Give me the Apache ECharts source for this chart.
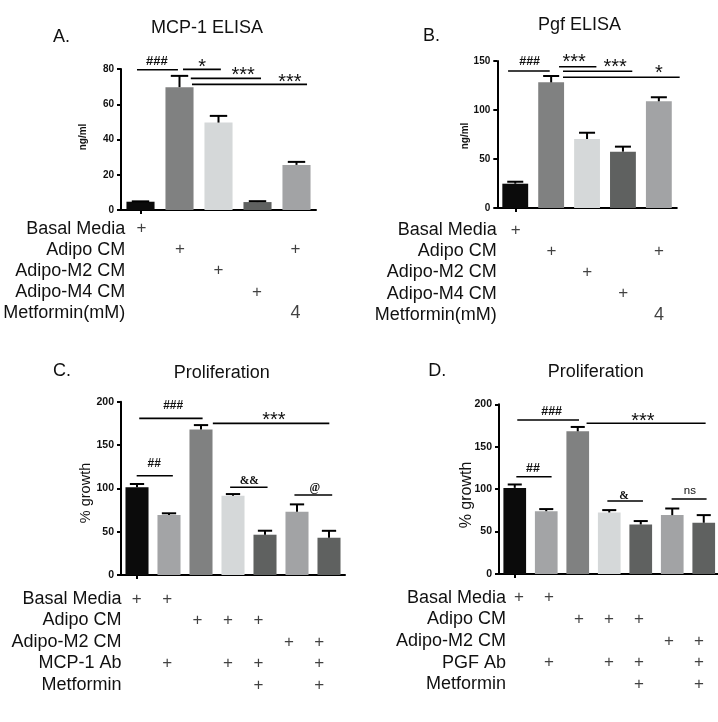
<!DOCTYPE html>
<html><head><meta charset="utf-8">
<script src="https://cdn.jsdelivr.net/npm/echarts@6/dist/echarts.min.js"></script>
<style>html,body{margin:0;padding:0;background:#fff}#c{width:718px;height:722px}</style>
</head><body><div id="c"></div>
<script>
// ---------------- DATA ----------------
const catsA = ['Basal Media', 'Adipo CM', 'Adipo-M2 CM', 'Adipo-M4 CM', 'Adipo CM + Metformin 4mM'];
const valsA = [4.7, 69.7, 49.6, 4.5, 25.6];
const errA  = [0.2, 6.4, 3.8, 0.5, 1.7];
const ticksA = [0, 20, 40, 60, 80];

const catsB = ['Basal Media', 'Adipo CM', 'Adipo-M2 CM', 'Adipo-M4 CM', 'Adipo CM + Metformin 4mM'];
const valsB = [24.8, 128.2, 70.4, 57.5, 108.9];
const errB  = [2.0, 6.5, 6.4, 5.1, 4.1];
const ticksB = [0, 50, 100, 150];

const catsC = ['Basal', 'Basal + MCP-1 Ab', 'Adipo CM', 'Adipo CM + MCP-1 Ab', 'Adipo CM + MCP-1 Ab + Metformin', 'Adipo-M2 CM', 'Adipo-M2 CM + MCP-1 Ab + Metformin'];
const valsC = [101.2, 69.2, 168.0, 91.5, 46.5, 73.0, 43.0];
const errC  = [3.8, 2.0, 5.0, 1.9, 4.6, 8.5, 8.0];
const ticksC = [0, 50, 100, 150, 200];

const catsD = ['Basal', 'Basal + PGF Ab', 'Adipo CM', 'Adipo CM + PGF Ab', 'Adipo CM + PGF Ab + Metformin', 'Adipo-M2 CM', 'Adipo-M2 CM + PGF Ab + Metformin'];
const valsD = [101.5, 74.0, 168.2, 72.5, 58.4, 69.4, 60.4];
const errD  = [4.0, 2.5, 5.1, 2.8, 4.0, 7.8, 9.0];
const ticksD = [0, 50, 100, 150, 200];

// significance: [fromIndex, toIndex, lineValue, labelIndex, labelValue, text]
const sigA = [[-0.09, 0.96, 79.6, 0.42, 84.1, '###'], [1.09, 2.06, 79.8, 1.58, 81.0, '*'], [1.29, 3.09, 74.7, 2.63, 76.5, '***'], [1.32, 4.27, 71.3, 3.83, 72.5, '***']];
const sigB = [[-0.2, 0.96, 139.8, 0.40, 149.3, '###'], [1.22, 2.26, 144.2, 1.64, 148.0, '***'], [1.33, 3.26, 139.5, 2.78, 143.0, '***'], [1.33, 4.58, 133.4, 4.0, 137.0, '*']];
const sigC = [[-0.01, 1.12, 114.5, 0.54, 128, '##'], [0.07, 2.05, 180.7, 1.13, 195, '###'], [2.37, 6.01, 175, 4.28, 178.3, '***'], [2.91, 4.08, 101.2, 3.51, 108.8, '&&'], [4.92, 6.1, 92.3, 5.56, 100, '@']];
const sigD = [[0.05, 1.17, 114.7, 0.58, 124.6, '##'], [0.08, 2.04, 181.5, 1.17, 191.3, '###'], [2.28, 6.06, 177.6, 4.07, 179.9, '***'], [2.94, 4.07, 86, 3.47, 91.9, '&'], [4.98, 6.09, 88.4, 5.56, 98.2, 'ns']];

// condition tables: rows and marks [column, row, text]
const rowsAB = ['Basal Media', 'Adipo CM', 'Adipo-M2 CM', 'Adipo-M4 CM', 'Metformin(mM)'];
const marksAB = [[0,0,'+'], [1,1,'+'], [4,1,'+'], [2,2,'+'], [3,3,'+'], [4,4,'4']];
const rowsC = ['Basal Media', 'Adipo CM', 'Adipo-M2 CM', 'MCP-1 Ab', 'Metformin'];
const rowsD = ['Basal Media', 'Adipo CM', 'Adipo-M2 CM', 'PGF Ab', 'Metformin'];
const marksCD = [[0,0,'+'], [1,0,'+'], [2,1,'+'], [3,1,'+'], [4,1,'+'], [5,2,'+'], [6,2,'+'], [1,3,'+'], [3,3,'+'], [4,3,'+'], [6,3,'+'], [4,4,'+'], [6,4,'+']];

const titles = ['MCP-1 ELISA', 'Pgf ELISA', 'Proliferation', 'Proliferation'];
const letters = ['A.', 'B.', 'C.', 'D.'];
const yNames = ['ng/ml', 'ng/ml', '% growth', '% growth'];

// ---------------- STYLE / LAYOUT ----------------
const SANS = "'Liberation Sans', Arial, Helvetica, sans-serif";
const SERIF = "'Liberation Serif', 'DejaVu Serif', serif";
const col5 = ['#0b0b0b', '#808181', '#d5d8d9', '#5f6160', '#a2a3a5'];
const col7 = ['#0b0b0b', '#a3a4a6', '#808181', '#d5d8d9', '#5f6160', '#a2a3a5', '#5f6160'];

const panels = [
  {cats: catsA, vals: valsA, errs: errA, ticks: ticksA, sig: sigA, rows: rowsAB, marks: marksAB, colors: col5,
   grid: {left: 121, top: 69, width: 195, height: 141}, tgrid: {left: 122.3, top: 218, width: 192.5, height: 105.5},
   tickFont: 10, rowMargin: -3, hashFont: 13, starFont: 20,
   title: [207, 28.5], letter: [53, 37], yname: [83, 137, 'bold 10px ' + SANS]},
  {cats: catsB, vals: valsB, errs: errB, ticks: ticksB, sig: sigB, rows: rowsAB, marks: marksAB, colors: col5,
   grid: {left: 497.3, top: 61, width: 179.5, height: 147}, tgrid: {left: 497.8, top: 219.5, width: 179, height: 106},
   tickFont: 10, rowMargin: 1, hashFont: 12.5, starFont: 20,
   title: [579.5, 25.5], letter: [423, 36], yname: [465, 136, 'bold 10px ' + SANS]},
  {cats: catsC, vals: valsC, errs: errC, ticks: ticksC, sig: sigC, rows: rowsC, marks: marksCD, colors: col7,
   grid: {left: 121, top: 401.7, width: 224, height: 173.3}, tgrid: {left: 121.5, top: 588.2, width: 213, height: 107.5},
   tickFont: 10.5, rowMargin: 0, hashFont: 12, starFont: 20,
   title: [221.7, 373], letter: [53, 371], yname: [86, 493, '14.5px ' + SANS]},
  {cats: catsD, vals: valsD, errs: errD, ticks: ticksD, sig: sigD, rows: rowsD, marks: marksCD, colors: col7,
   grid: {left: 499, top: 404.3, width: 220.5, height: 169.7}, tgrid: {left: 504, top: 586.9, width: 210, height: 108.2},
   tickFont: 10.5, rowMargin: -2, hashFont: 12.5, starFont: 20,
   title: [595.7, 372], letter: [428.3, 371.5], yname: [466.3, 495, '16px ' + SANS]}
];

const option = {animation: false, backgroundColor: '#fff', grid: [], xAxis: [], yAxis: [], series: [], graphic: []};

function labelFont(text, p) {
  if (text.indexOf('#') >= 0) return 'bold ' + p.hashFont + 'px ' + SANS;
  if (text.indexOf('*') >= 0) return p.starFont + 'px ' + SANS;
  if (text === 'ns') return '11.5px ' + SANS;
  return 'bold 11.5px ' + SERIF;
}

panels.forEach((p, i) => {
  const barGap = 0.72;
  // ---- bar chart grid ----
  const g = option.grid.length;
  option.grid.push(Object.assign({outerBoundsMode: 'none', containLabel: false}, p.grid));
  const xi = option.xAxis.length;
  option.xAxis.push({type: 'category', gridIndex: g, data: p.cats,
    axisLine: {show: true, lineStyle: {color: '#000', width: 2}},
    axisTick: {show: true, alignWithLabel: true, length: 4, lineStyle: {color: '#000', width: 2}},
    axisLabel: {show: false}, splitLine: {show: false}});
  const yi = option.yAxis.length;
  option.yAxis.push({type: 'value', gridIndex: g, min: p.ticks[0], max: p.ticks[p.ticks.length - 1],
    interval: p.ticks[1] - p.ticks[0],
    axisLine: {show: true, lineStyle: {color: '#000', width: 2}},
    axisTick: {show: true, length: 4, lineStyle: {color: '#000', width: 2}},
    axisLabel: {fontSize: p.tickFont, fontWeight: 'bold', color: '#111', margin: 7, fontFamily: SANS},
    splitLine: {show: false}});
  option.series.push({type: 'bar', xAxisIndex: xi, yAxisIndex: yi, barWidth: (barGap * 100) + '%', silent: true,
    data: p.vals.map((v, j) => ({value: v, itemStyle: {color: p.colors[j]}}))});
  option.series.push({type: 'custom', xAxisIndex: xi, yAxisIndex: yi, silent: true, z: 5,
    data: p.vals.map((v, j) => [j, v, v + p.errs[j]]),
    renderItem: (params, api) => {
      const x = api.value(0);
      const a = api.coord([x, api.value(1)]);
      const b = api.coord([x, api.value(2)]);
      const h = api.size([1, 0])[0] * barGap * 0.62 / 2;
      return {type: 'group', children: [
        {type: 'line', shape: {x1: a[0], y1: a[1], x2: b[0], y2: b[1]}, style: {stroke: '#000', lineWidth: 2}},
        {type: 'line', shape: {x1: b[0] - h, y1: b[1], x2: b[0] + h, y2: b[1]}, style: {stroke: '#000', lineWidth: 2}}
      ]};
    }});
  option.series.push({type: 'custom', xAxisIndex: xi, yAxisIndex: yi, silent: true, z: 6, clip: false,
    data: p.sig.map(s => [0, s[2]]),
    renderItem: (params, api) => {
      const s = p.sig[params.dataIndex];
      const c = api.coord([0, s[2]]);
      const band = api.size([1, 0])[0];
      const ly = api.coord([0, s[4]])[1];
      return {type: 'group', children: [
        {type: 'line', shape: {x1: c[0] + s[0] * band, y1: c[1], x2: c[0] + s[1] * band, y2: c[1]},
         style: {stroke: '#000', lineWidth: 1.6}},
        {type: 'text', x: c[0] + s[3] * band, y: ly,
         style: {text: s[5], font: labelFont(s[5], p), fill: '#111', textAlign: 'center', textVerticalAlign: 'middle'}}
      ]};
    }});
  // ---- condition table grid ----
  const tg = option.grid.length;
  option.grid.push(Object.assign({outerBoundsMode: 'none', containLabel: false}, p.tgrid));
  const txi = option.xAxis.length;
  option.xAxis.push({type: 'category', gridIndex: tg, data: p.cats, show: false});
  const tyi = option.yAxis.length;
  option.yAxis.push({type: 'category', gridIndex: tg, data: p.rows, inverse: true,
    axisLine: {show: false}, axisTick: {show: false}, splitLine: {show: false},
    axisLabel: {interval: 0, fontSize: 18, color: '#111', margin: p.rowMargin, fontFamily: SANS, hideOverlap: false}});
  option.series.push({type: 'scatter', xAxisIndex: txi, yAxisIndex: tyi, silent: true, symbolSize: 1,
    itemStyle: {color: 'rgba(0,0,0,0)'},
    data: p.marks.map(m => ({value: [m[0], m[1]], label: {fontSize: m[2] === '+' ? 17 : 18}})),
    label: {show: true, position: 'inside', color: '#111', fontFamily: SANS,
      formatter: (q) => p.marks[q.dataIndex][2]}});
  // ---- texts ----
  option.graphic.push({type: 'text', x: p.title[0], y: p.title[1], silent: true,
    style: {text: titles[i], font: '18px ' + SANS, fill: '#111', textAlign: 'center', textVerticalAlign: 'middle'}});
  option.graphic.push({type: 'text', x: p.letter[0], y: p.letter[1], silent: true,
    style: {text: letters[i], font: '18px ' + SANS, fill: '#111', textAlign: 'left', textVerticalAlign: 'middle'}});
  option.graphic.push({type: 'text', x: p.yname[0], y: p.yname[1], rotation: Math.PI / 2, silent: true,
    style: {text: yNames[i], font: p.yname[2], fill: '#111', textAlign: 'center', textVerticalAlign: 'middle'}});
});

const chart = echarts.init(document.getElementById('c'), null, {renderer: 'canvas'});
chart.setOption(option);
</script>
</body></html>
